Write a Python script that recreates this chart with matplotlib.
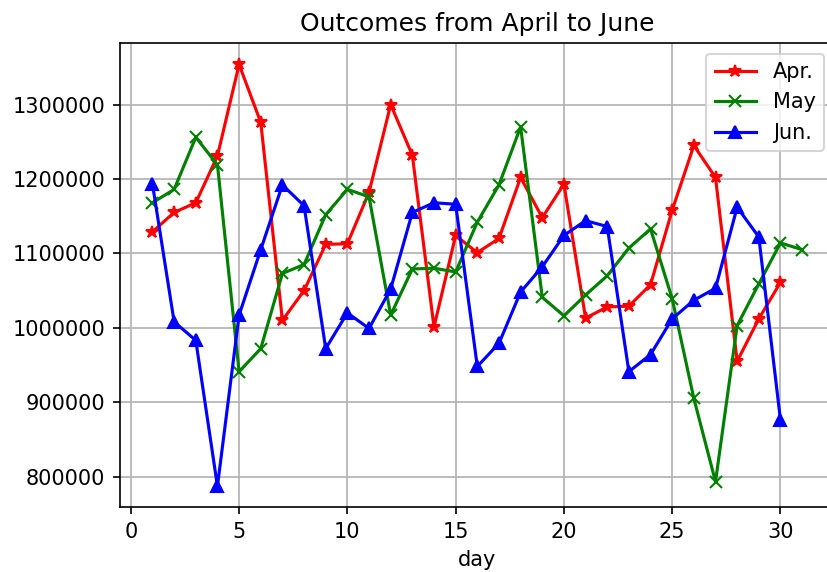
import matplotlib
matplotlib.use("Agg")
import matplotlib.pyplot as plt

# daily outcomes
days_apr = list(range(1, 31))
apr = [1129000, 1155000, 1168000, 1231000, 1354000, 1276000, 1010000, 1050000,
       1112000, 1113000, 1182000, 1300000, 1232000, 1001000, 1124000, 1101000,
       1120000, 1202000, 1148000, 1193000, 1013000, 1028000, 1029000, 1058000,
       1158000, 1245000, 1202000, 955000, 1012000, 1061000]

days_may = list(range(1, 32))
may = [1168000, 1186000, 1256000, 1219000, 941000, 972000, 1073000, 1085000,
       1152000, 1186000, 1176000, 1017000, 1079000, 1080000, 1075000, 1142000,
       1192000, 1270000, 1041000, 1016000, 1044000, 1070000, 1107000, 1133000,
       1039000, 905000, 793000, 1003000, 1059000, 1114000, 1105000]

days_jun = list(range(1, 31))
jun = [1193000, 1008000, 983000, 787000, 1017000, 1105000, 1192000, 1164000,
       972000, 1020000, 999000, 1052000, 1155000, 1168000, 1166000, 948000,
       979000, 1048000, 1082000, 1124000, 1144000, 1136000, 941000, 964000,
       1012000, 1037000, 1053000, 1162000, 1122000, 876000]

DPI = 150
fig = plt.figure(figsize=(828 / DPI, 572 / DPI), dpi=DPI)
# axes runs slightly past the right edge, as in the cropped original
ax = fig.add_axes([120 / 828, 64.7 / 572, 714.6 / 828, 464 / 572])

ax.plot(days_apr, apr, "r-*", label="Apr.")
ax.plot(days_may, may, "g-x", label="May")
ax.plot(days_jun, jun, "b-^", label="Jun.")

ax.set_title("Outcomes from April to June")
ax.set_xlabel("day")
ax.ticklabel_format(axis="y", style="plain", useOffset=False)
ax.grid(True)
ax.legend(loc="upper right")

fig.savefig("out.png", dpi=DPI)
plt.close(fig)
